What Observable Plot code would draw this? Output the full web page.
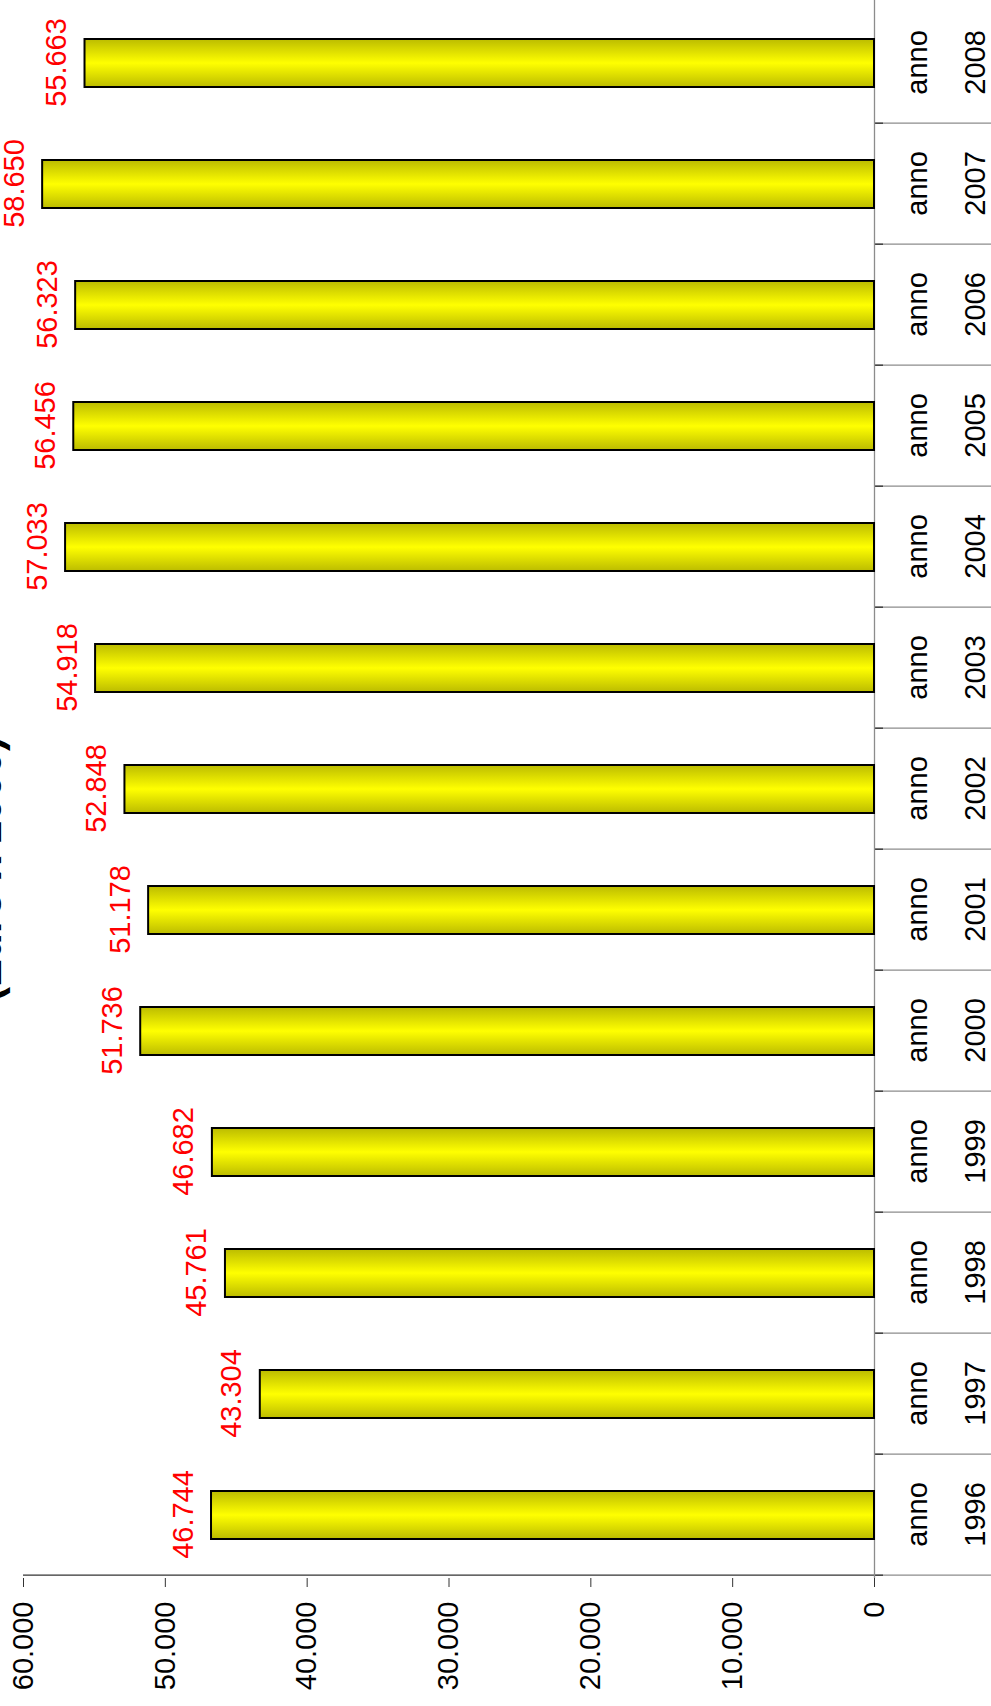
<!DOCTYPE html>
<html>
<head>
<meta charset="utf-8">
<script src="https://cdn.jsdelivr.net/npm/d3@7"></script>
<script src="https://cdn.jsdelivr.net/npm/@observablehq/plot@0.6"></script>
<style>
  html, body { margin: 0; padding: 0; background: #fff; overflow: hidden; }
  #stage {
    position: absolute; left: 0; top: 0;
    width: 1706px; height: 991px;
    transform-origin: 0 0;
    transform: translateY(1706px) rotate(-90deg);
    background: #fff;
  }
  #plot { position: absolute; left: 0; top: 0; width: 1706px; height: 991px; }
  #title {
    position: absolute; left: 837px; top: -34.5px;
    transform: translateX(-50%);
    font: bold 42px "Liberation Sans", Arial, sans-serif;
    line-height: 42px; white-space: nowrap; color: #000;
  }
</style>
</head>
<body>
<div id="stage">
  <div id="plot"></div>
  <div id="title"></div>
</div>
<script>
// ---- data ----
const years = [1996, 1997, 1998, 1999, 2000, 2001, 2002, 2003, 2004, 2005, 2006, 2007, 2008];
const values = [46744, 43304, 45761, 46682, 51736, 51178, 52848, 54918, 57033, 56456, 56323, 58650, 55663];
const yTicks = [0, 10000, 20000, 30000, 40000, 50000, 60000];
const yDomain = [0, 60000];
const categoryPrefix = "anno";
const titleText = "(Euro x 1000)";

// ---- layout ----
const W = 1706, H = 991, mL = 128, mR = 0, mT = 23, mB = 117;
const step = (W - mL - mR) / years.length;

const it = d3.formatLocale({decimal: ",", thousands: ".", grouping: [3], currency: ["€", ""]});
const fmt = it.format(",d");

const data = years.map((y, i) => ({year: String(y), value: values[i]}));

document.getElementById("title").textContent = titleText;

const chart = Plot.plot({
  width: W, height: H,
  marginLeft: mL, marginRight: mR, marginTop: mT, marginBottom: mB,
  style: {fontFamily: '"Liberation Sans", Arial, sans-serif', background: "transparent", overflow: "visible", maxWidth: "none"},
  x: {type: "band", domain: data.map(d => d.year), paddingInner: 0.6, paddingOuter: 0.3, axis: null, label: null},
  y: {domain: yDomain, axis: null, label: null},
  marks: [
    // category separators (below the baseline)
    Plot.axisX({tickSize: 117, dx: -step / 2, stroke: "#8c8c8c", strokeWidth: 1.3, fill: "none", label: null}),
    Plot.axisX({tickSize: 9, dx: -step / 2, stroke: "#333", strokeWidth: 1.3, fill: "none", label: null}),
    // value axis line
    Plot.ruleX([data[0].year], {dx: -step / 2, y1: yDomain[0], y2: yDomain[1], stroke: "#333", strokeWidth: 1.3}),
    // baseline
    Plot.ruleY([0], {stroke: "#8c8c8c", strokeWidth: 1.3}),
    // bars
    Plot.barY(data, {x: "year", y: "value", fill: "url(#barGrad)", stroke: "#000", strokeWidth: 2}),
    // value labels
    Plot.text(data, {x: "year", y: "value", text: d => fmt(d.value), fill: "#ff0000", fontSize: 29, lineAnchor: "bottom", dy: -19}),
    // value axis
    Plot.axisY({ticks: yTicks, tickSize: 9, tickPadding: 15, tickFormat: fmt, fontSize: 29, stroke: "#333", fill: "#000", label: null}),
    // category labels (two rows)
    Plot.axisX({tickSize: 0, tickPadding: 32, tickFormat: () => categoryPrefix, fontSize: 29, fill: "#000", label: null}),
    Plot.axisX({tickSize: 0, tickPadding: 90, tickFormat: d => d, fontSize: 29, fill: "#000", label: null})
  ]
});

const svg = chart.tagName.toLowerCase() === "svg" ? chart : chart.querySelector("svg");
const defs = d3.select(svg).insert("defs", ":first-child");
const grad = defs.append("linearGradient").attr("id", "barGrad")
  .attr("x1", 0).attr("y1", 0).attr("x2", 1).attr("y2", 0);
grad.append("stop").attr("offset", "0%").attr("stop-color", "#bcbc00");
grad.append("stop").attr("offset", "50%").attr("stop-color", "#ffff00");
grad.append("stop").attr("offset", "100%").attr("stop-color", "#bcbc00");

document.getElementById("plot").appendChild(chart);
</script>
</body>
</html>
